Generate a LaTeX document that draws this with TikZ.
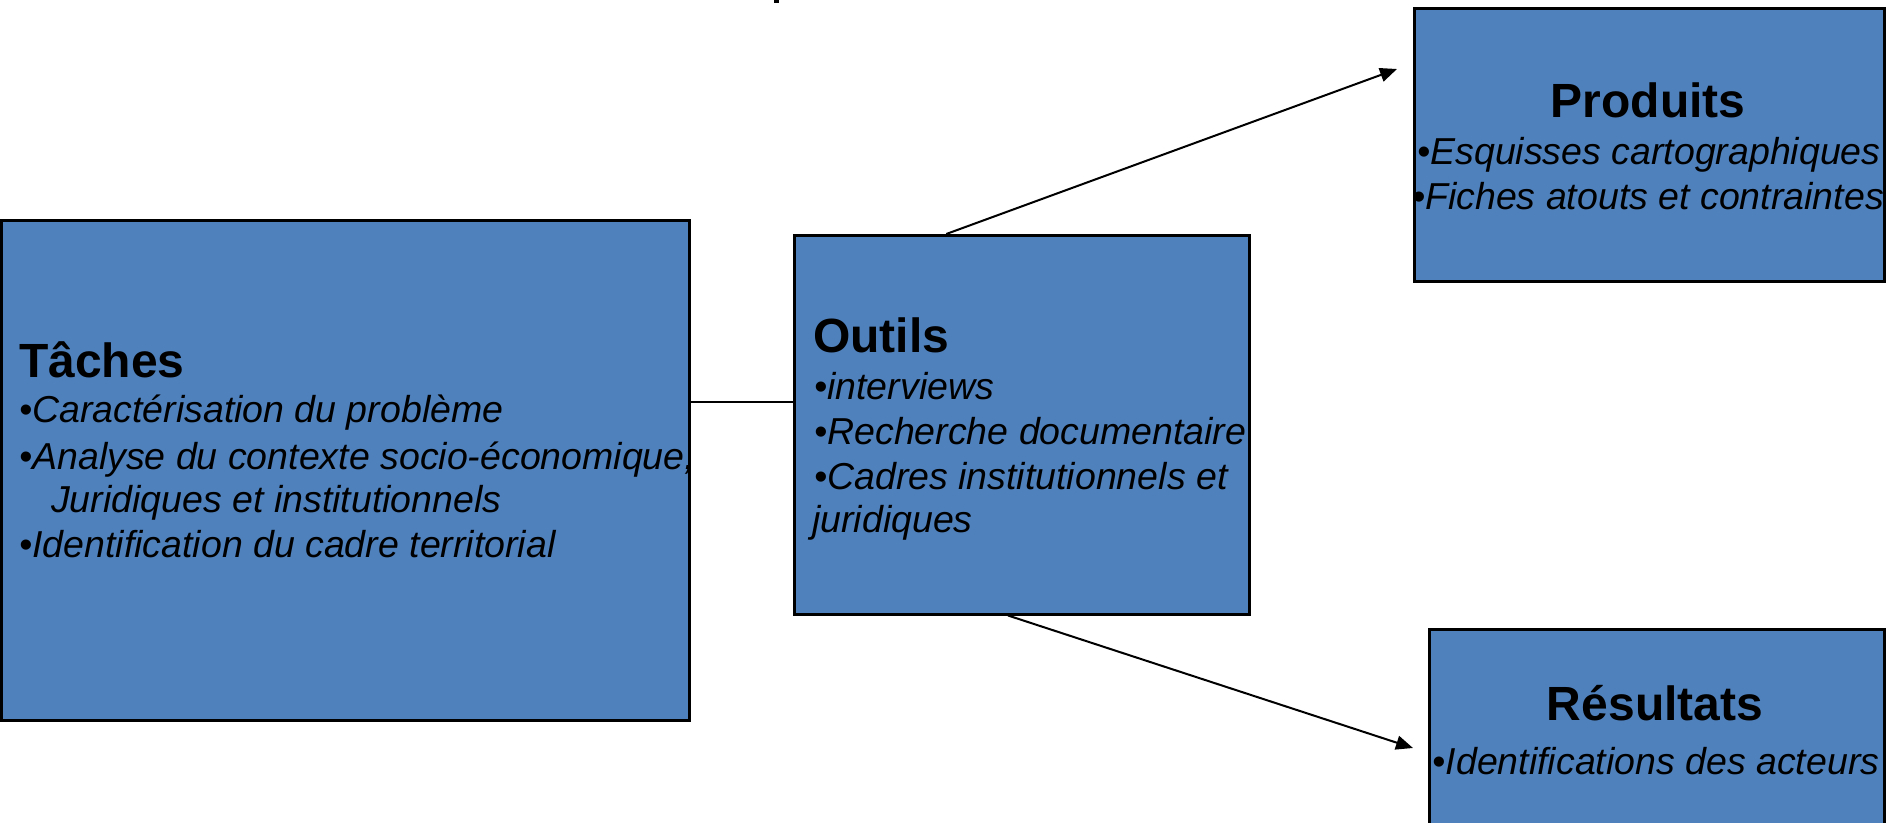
\documentclass[tikz,border=0pt]{standalone}
\usepackage{fontspec}
\setmainfont{Liberation Sans}
\usetikzlibrary{arrows.meta,calc}
\definecolor{bleubox}{HTML}{4F81BD}
\begin{document}
\begin{tikzpicture}[x=1pt,y=-1pt,
    boite/.style={draw=black,line width=2.5pt,fill=bleubox,inner sep=0,anchor=north west},
    titre/.style={font=\fontsize{48}{54}\selectfont\bfseries,inner sep=0},
    puce/.style={font=\fontsize{37.5}{44}\selectfont\itshape,inner sep=0},
    lien/.style={line width=2pt},
    fleche/.style={line width=2pt,-{Triangle[length=17pt,width=14pt]}}]
        \clip (0,0) rectangle (1893,822);
        \fill[white] (0,0) rectangle (1893,822);
        \fill (774,0) rectangle (779,3);

        \node[boite,minimum width=688,minimum height=500] (taches) at (0,219) {};
        \node[boite,minimum width=455,minimum height=379] (outils) at (793,234) {};
        \node[boite,minimum width=470,minimum height=273] (produits) at (1413,7) {};
        \node[boite,minimum width=455,minimum height=260] (resultats) at (1428,628) {};

        \node[titre,anchor=base west] (tt) at (19,377) {Tâches};
        \node[puce,anchor=base west] (t1) at (19,422) {\textbullet{}Caractérisation du problème};
        \node[puce,anchor=base west] (t2) at (19,469) {\textbullet{}Analyse du contexte socio-économique,};
        \node[puce,anchor=base west] (t3) at (51,512) {Juridiques et institutionnels};
        \node[puce,anchor=base west] (t4) at (19,557) {\textbullet{}Identification du cadre territorial};

        \node[titre,anchor=base west] (ot) at (813,352) {Outils};
        \node[puce,anchor=base west] (o1) at (814,399) {\textbullet{}interviews};
        \node[puce,anchor=base west] (o2) at (814,444) {\textbullet{}Recherche documentaire};
        \node[puce,anchor=base west] (o3) at (814,489) {\textbullet{}Cadres institutionnels et};
        \node[puce,anchor=base west] (o4) at (812,532) {juridiques};

        \node[titre,anchor=base] (pt) at (1648,117) {Produits};
        \node[puce,anchor=base] (p1) at (1649,164) {\textbullet{}Esquisses cartographiques};
        \node[puce,anchor=base] (p2) at (1648,209) {\textbullet{}Fiches atouts et contraintes};

        \node[titre,anchor=base] (rt) at (1655,720) {Résultats};
        \node[puce,anchor=base] (r1) at (1656,774) {\textbullet{}Identifications des acteurs};

        \coordinate (mid) at (740,402);
        \draw[lien] (taches.east |- mid) -- (outils.west |- mid);
        \draw[fleche] ($(outils.north west)!0.335!(outils.north east)$) -- ($(produits.north west)+(-16,62)$);
        \draw[fleche] ($(outils.south west)!0.47!(outils.south east)$) -- ($(resultats.north west)+(-15,120)$);
    \end{tikzpicture}
\end{document}
